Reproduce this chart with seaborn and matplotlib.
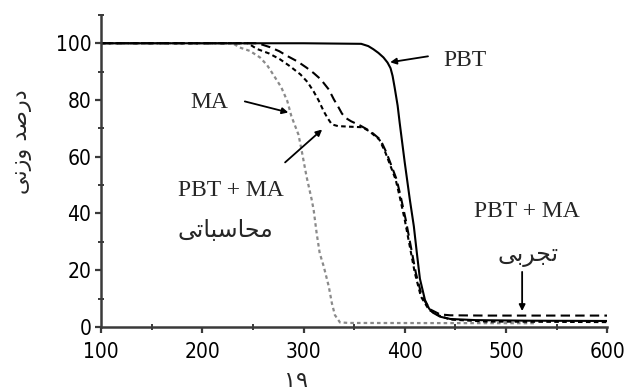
"""
Thermogravimetric curves (weight % vs temperature) for PBT, MA and the PBT + MA blend.
"""

import matplotlib.pyplot as plt
import seaborn as sns
from matplotlib.ticker import MultipleLocator

# PBT (solid)
PBT_T = [100, 300, 357, 364, 369, 374, 379, 383, 386, 388, 390, 393, 395, 400, 405, 409,
         412, 415, 420, 424, 428, 435, 445, 470, 520, 600]
PBT_W = [100, 100, 99.8, 99.0, 97.9, 96.6, 95.0, 93.2, 91.2, 88.5, 84.5, 78, 72, 58, 45, 35.5,
         26, 17, 9.5, 6.5, 5.0, 3.6, 2.8, 2.4, 2.2, 2.1]

# MA (grey dotted)
MA_T = [100, 230, 237, 247, 257, 264, 270, 278, 284, 288, 295, 298, 303, 308, 310, 313,
        316, 320, 325, 328, 331, 336, 345, 530]
MA_W = [100, 100, 98.5, 97.3, 95, 92.3, 89, 84.5, 79.6, 74.3, 67.8, 62.5, 53, 45, 41.3, 33,
        26, 21.3, 14.2, 8.4, 4.2, 1.6, 1.4, 1.3]

# PBT + MA, calculated (short dashes)
CALC_T = [100, 245, 254, 266, 277, 287, 297, 304, 310, 315, 320, 324, 328, 334, 345, 358,
          365, 375, 381, 386, 391, 395, 400, 405, 410, 416, 424, 434, 445, 480, 600]
CALC_W = [100, 100, 98, 96.4, 94.3, 91.8, 89, 86.3, 83, 79.8, 76, 73.5, 71.4, 70.8, 70.6, 70.4,
          69, 66, 61.4, 56.7, 52, 46, 37.8, 28.4, 19, 10.7, 6.0, 4.0, 2.6, 1.9, 1.7]

# PBT + MA, experimental (long dashes)
EXP_T = [100, 255, 267, 276, 284, 294, 303, 310, 317, 325, 330, 334, 338, 342, 347, 356,
         366, 376, 382, 387, 392, 396, 401, 406, 411, 417, 425, 435, 445, 480, 600]
EXP_W = [100, 100, 98.6, 97.2, 95.5, 93.6, 91.4, 89.5, 87.3, 83.7, 80.2, 77.8, 75.2, 73.6, 72.5, 71,
         69, 66, 61.4, 56.7, 52, 46, 37.8, 28.4, 19, 10.7, 6.2, 4.4, 4.1, 4.0, 4.0]

X_TICKS = [100, 200, 300, 400, 500, 600]
Y_TICKS = [0, 20, 40, 60, 80, 100]

# Persian labels (presentation forms, visual order, since matplotlib does not shape Arabic script)
Y_LABEL = "\uFEF0\uFEE7\uFEAF\uFEED \uFEAA\uFEBB\uFEAD\uFEA9"      # درصد وزنی
CALC_LABEL = "\uFEF0\uFE97\uFE8E\uFE92\uFEB3\uFE8E\uFEA4\uFEE3"    # محاسباتی
EXP_LABEL = "\uFEF0\uFE91\uFEAE\uFEA0\uFE97"                        # تجربی
FIG_NUMBER = "\u06F1\u06F9"                                          # ۱۹

sns.set_theme(style="white")
plt.rcParams['font.family'] = ['DejaVu Sans']
plt.rcParams['font.stretch'] = 'condensed'

AXIS_GREY = "#3a3a3a"
SERIF = ['Liberation Serif', 'DejaVu Sans']
ARABIC = ['DejaVu Sans']


def main():
    fig, ax = plt.subplots(figsize=(6.24, 3.92), dpi=100)
    fig.subplots_adjust(left=0.162, right=0.973, bottom=0.166, top=0.962)

    sns.lineplot(x=MA_T, y=MA_W, ax=ax, color="#8a8a8a", linewidth=1.6,
                 linestyle=(0, (1.6, 1.4)), sort=False)
    sns.lineplot(x=CALC_T, y=CALC_W, ax=ax, color="black", linewidth=1.5,
                 linestyle=(0, (2.2, 1.6)), sort=False)
    sns.lineplot(x=EXP_T, y=EXP_W, ax=ax, color="black", linewidth=1.5,
                 linestyle=(0, (4.5, 2.5)), sort=False)
    sns.lineplot(x=PBT_T, y=PBT_W, ax=ax, color="black", linewidth=1.5, sort=False)

    ax.set_xlim(100, 600)
    ax.set_ylim(0, 110)
    ax.set_xticks(X_TICKS)
    ax.set_yticks(Y_TICKS)
    ax.xaxis.set_minor_locator(MultipleLocator(50))
    ax.yaxis.set_minor_locator(MultipleLocator(10))

    sns.despine(ax=ax)
    for side in ("left", "bottom"):
        ax.spines[side].set_color(AXIS_GREY)
        ax.spines[side].set_linewidth(1.8)

    ax.tick_params(axis="both", which="major", direction="out", length=4, width=1.6,
                   color=AXIS_GREY, labelsize=15, labelcolor="black")
    ax.tick_params(axis="both", which="minor", direction="inout", length=4, width=1.4,
                   color=AXIS_GREY)
    ax.tick_params(axis="x", which="major", pad=7, bottom=True)
    ax.tick_params(axis="x", which="minor", bottom=True)
    ax.tick_params(axis="y", which="major", pad=3, left=True)
    ax.tick_params(axis="y", which="minor", left=True)

    ax.set_xlabel("")
    ax.set_ylabel(Y_LABEL, family=ARABIC, fontsize=16, fontstretch='normal')
    ax.yaxis.set_label_coords(-0.136, 0.593)

    arrow = dict(arrowstyle="-|>", color="black", lw=1.3, mutation_scale=9,
                 shrinkA=0, shrinkB=0)

    ax.text(438, 94, "PBT", family=SERIF, fontsize=17, ha="left", va="center")
    ax.annotate("", xy=(385.6, 93.3), xytext=(423, 95.4), arrowprops=arrow)

    ax.text(207, 79, "MA", family=SERIF, fontsize=17, ha="center", va="center")
    ax.annotate("", xy=(285, 75.6), xytext=(242, 79.5), arrowprops=arrow)

    ax.text(228.5, 48, "PBT + MA", family=SERIF, fontsize=17, ha="center", va="center")
    ax.text(223, 34.3, CALC_LABEL, family=ARABIC, fontsize=17, fontstretch='normal',
            ha="center", va="center")
    ax.annotate("", xy=(318.4, 69.6), xytext=(281.8, 58), arrowprops=arrow)

    ax.text(520.5, 40.8, "PBT + MA", family=SERIF, fontsize=17, ha="center", va="center")
    ax.text(521.6, 25.4, EXP_LABEL, family=ARABIC, fontsize=17, fontstretch='normal',
            ha="center", va="center")
    ax.annotate("", xy=(516, 5.6), xytext=(516, 19.4), arrowprops=arrow)

    fig.text(296 / 624, 1 - 387 / 392, FIG_NUMBER, family=ARABIC, fontsize=16,
             fontstretch='normal', ha="center", va="baseline")

    fig.savefig("out.png", dpi=100)
    plt.close(fig)


if __name__ == "__main__":
    main()
